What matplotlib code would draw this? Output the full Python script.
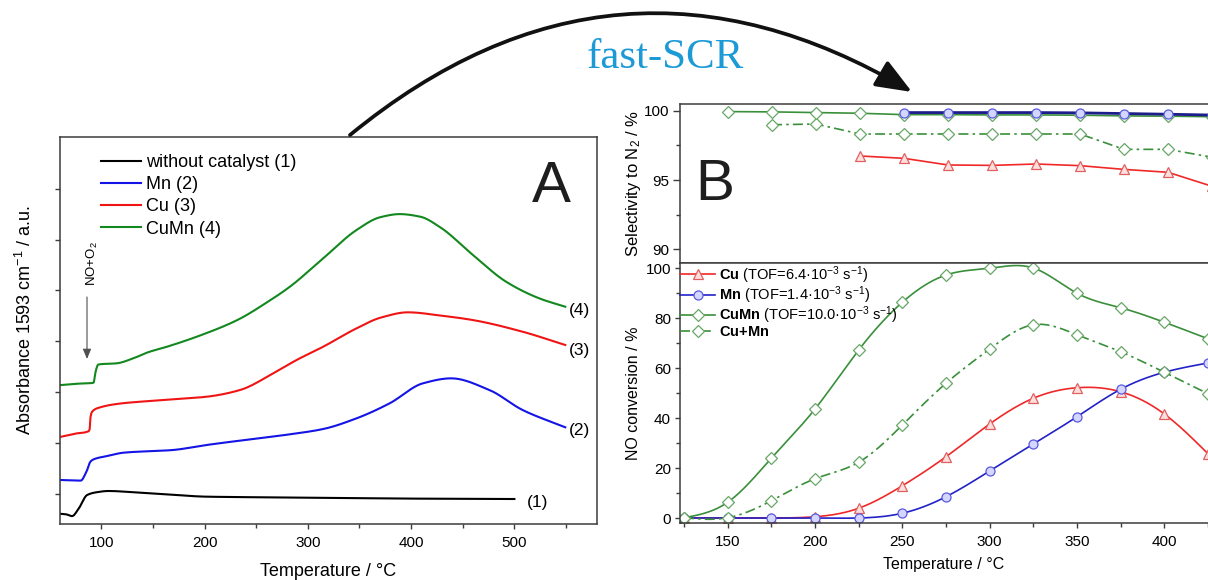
import numpy as np
import matplotlib.pyplot as plt
from matplotlib.patches import FancyArrowPatch
from matplotlib.lines import Line2D

plt.rcParams['font.family'] = ['Liberation Sans', 'DejaVu Sans']
plt.rcParams['mathtext.fontset'] = 'custom'
plt.rcParams['mathtext.rm'] = 'Liberation Sans'
plt.rcParams['mathtext.it'] = 'Liberation Sans:italic'
plt.rcParams['mathtext.bf'] = 'Liberation Sans:bold'

# ---- panel A: absorbance at 1593 cm-1 vs temperature ----
t_none = [61, 66, 71.7, 78, 86.2, 95, 107, 128, 160, 202, 298.7, 400, 500]
a_none = [-0.2, -0.205, -0.222, -0.15, -0.015, 0.012, 0.025, 0.015, -0.005, -0.031, -0.04, -0.05, -0.054]

t_mn = [61, 80, 85.6, 89.4, 92.6, 106, 121.5, 168.8, 202, 239, 282.6, 314.8, 347.1,
        379.2, 411.4, 438.8, 475.8, 508, 549.3]
a_mn = [0.133, 0.127, 0.215, 0.313, 0.337, 0.37, 0.402, 0.428, 0.478, 0.527, 0.583, 0.635, 0.74,
        0.888, 1.085, 1.134, 1.019, 0.822, 0.652]

t_cu = [61, 75, 88.5, 89.5, 91, 99, 120, 137.7, 168.8, 202, 234.3, 266.5, 289, 314.8,
        347.1, 370, 396.9, 430, 459.7, 508, 549.3]
a_cu = [0.559, 0.59, 0.618, 0.75, 0.805, 0.849, 0.888, 0.904, 0.927, 0.953, 1.019, 1.183, 1.314, 1.445,
        1.626, 1.73, 1.784, 1.75, 1.708, 1.593, 1.462]

t_cumn = [61, 75, 92.5, 94.5, 97, 115, 131, 145, 163.5, 192.5, 231.7, 261.3, 282.6, 314.8,
          347.1, 370, 388.9, 409, 427.5, 459.7, 492, 524.2, 549.3]
a_cumn = [1.068, 1.08, 1.09, 1.2, 1.27, 1.282, 1.331, 1.39, 1.445, 1.544, 1.708, 1.888, 2.036, 2.315,
          2.594, 2.72, 2.751, 2.725, 2.626, 2.35, 2.085, 1.921, 1.839]

# ---- panel B top: selectivity to N2 ----
ts_cumn = [150, 175, 200, 225, 250, 275, 300, 325, 350, 375, 400, 425]
sel_cumn = [99.95, 99.93, 99.88, 99.83, 99.73, 99.73, 99.71, 99.71, 99.69, 99.64, 99.62, 99.58]
ts_mn = [250, 275, 300, 325, 350, 375, 400, 425]
sel_mn = [99.88, 99.88, 99.88, 99.88, 99.86, 99.81, 99.76, 99.70]
ts_mix = [175, 200, 225, 250, 275, 300, 325, 350, 375, 400, 425]
sel_mix = [99.0, 99.05, 98.33, 98.33, 98.33, 98.33, 98.33, 98.33, 97.22, 97.22, 96.65]
ts_cu = [225, 250, 275, 300, 325, 350, 375, 400, 425]
sel_cu = [96.74, 96.57, 96.09, 96.06, 96.16, 96.04, 95.77, 95.56, 94.55]

# ---- panel B bottom: NO conversion ----
tc = [125, 150, 175, 200, 225, 250, 275, 300, 325, 350, 375, 400, 425]
conv_cumn = [0.1, 6.3, 23.9, 43.6, 67.2, 86.3, 97.2, 99.9, 100, 89.9, 84.1, 78.3, 71.7]
conv_mix = [0.1, 0.1, 6.9, 15.7, 22.3, 37.2, 53.9, 67.6, 77.3, 73.3, 66.5, 58.3, 49.7]
conv_cu = [0, 0, 0, 0.5, 3.9, 12.9, 24.5, 37.6, 47.9, 52.1, 50.5, 41.6, 25.7]
conv_mn = [0, 0, 0, 0, 0, 1.9, 8.5, 18.8, 29.6, 40.5, 51.5, 58.3, 62]


def pchip(x, y, n=600):
    # monotone cubic through the read points (keeps the steps clean)
    x = np.asarray(x, float); y = np.asarray(y, float)
    h = np.diff(x); d = np.diff(y) / h
    m = np.zeros_like(y)
    for k in range(1, len(x) - 1):
        if d[k-1] * d[k] > 0:
            w1 = 2*h[k] + h[k-1]; w2 = h[k] + 2*h[k-1]
            m[k] = (w1 + w2) / (w1/d[k-1] + w2/d[k])
    m[0], m[-1] = d[0], d[-1]
    xs = np.linspace(x[0], x[-1], n)
    i = np.clip(np.searchsorted(x, xs) - 1, 0, len(h) - 1)
    t = (xs - x[i]) / h[i]
    ys = ((2*t**3 - 3*t**2 + 1)*y[i] + (t**3 - 2*t**2 + t)*h[i]*m[i]
          + (-2*t**3 + 3*t**2)*y[i+1] + (t**3 - t**2)*h[i]*m[i+1])
    return xs, ys


def spline(x, y, n=600):
    # natural cubic spline, like the origin "spline" connection
    x = np.asarray(x, float); y = np.asarray(y, float)
    N = len(x); h = np.diff(x)
    A = np.zeros((N, N)); r = np.zeros(N)
    A[0, 0] = A[-1, -1] = 1
    for k in range(1, N - 1):
        A[k, k-1] = h[k-1]; A[k, k] = 2*(h[k-1] + h[k]); A[k, k+1] = h[k]
        r[k] = 3*((y[k+1] - y[k])/h[k] - (y[k] - y[k-1])/h[k-1])
    c = np.linalg.solve(A, r)
    b = (y[1:] - y[:-1])/h - h*(2*c[:-1] + c[1:])/3
    dd = (c[1:] - c[:-1])/(3*h)
    xs = np.linspace(x[0], x[-1], n)
    i = np.clip(np.searchsorted(x, xs) - 1, 0, N - 2)
    t = xs - x[i]
    return xs, y[i] + b[i]*t + c[i]*t**2 + dd[i]*t**3


W, H = 1208, 580
def fx(px): return px / W
def fy(py): return 1 - py / H

SP = '#3c3c3c'
def style(ax):
    for s in ax.spines.values():
        s.set_color(SP); s.set_linewidth(1.1)
    ax.tick_params(which='both', direction='out', color=SP, width=1.0)
    ax.tick_params(which='major', length=3.5)
    ax.tick_params(which='minor', length=3.0)

fig = plt.figure(figsize=(W/100, H/100), dpi=100)

# ================= panel A =================
axA = fig.add_axes([fx(60), fy(524), 537/W, 387/H])
style(axA)
for t, a, c in [(t_none, a_none, 'black'), (t_mn, a_mn, '#1414e6'),
                (t_cu, a_cu, '#f01414'), (t_cumn, a_cumn, '#13881f')]:
    xs, ys = pchip(t, a)
    axA.plot(xs, ys, color=c, lw=1.5)
axA.set_xlim(60, 580)
axA.set_ylim(-0.3, 3.51)
axA.set_xticks([100, 200, 300, 400, 500])
axA.set_xticks([150, 250, 350, 450, 550], minor=True)
axA.set_yticks([0, 0.5, 1, 1.5, 2, 2.5, 3])
axA.tick_params(axis='y', labelleft=False)
axA.tick_params(axis='x', labelsize=11, pad=5)
axA.set_xlabel('Temperature / °C', fontsize=13)
axA.xaxis.set_label_coords(0.5, -0.1)
axA.set_ylabel('Absorbance 1593 cm$^{-1}$ / a.u.', fontsize=13)
axA.yaxis.set_label_coords(-0.047, 0.527)

axA.legend(handles=[Line2D([], [], color='black', lw=1.5),
                    Line2D([], [], color='#1414e6', lw=1.5),
                    Line2D([], [], color='#f01414', lw=1.5),
                    Line2D([], [], color='#13881f', lw=1.5)],
           labels=['without catalyst (1)', 'Mn (2)', 'Cu (3)', 'CuMn (4)'],
           loc='upper left', bbox_to_anchor=(fx(101), fy(154)), bbox_transform=fig.transFigure,
           frameon=False, fontsize=13, handlelength=2.2, handletextpad=0.3,
           labelspacing=0.29, borderpad=0, borderaxespad=0)

fig.text(fx(551), fy(202), 'A', fontsize=42, ha='center', va='baseline', color='#1e1e1e')
for lbl, x, y in [('(4)', 580, 311), ('(3)', 580, 351), ('(2)', 580, 431), ('(1)', 538, 502)]:
    fig.text(fx(x), fy(y), lbl, fontsize=12.5, ha='center', va='center')

fig.text(fx(92), fy(264), 'NO+O$_2$', fontsize=9.5, rotation=90, ha='center', va='center')
fig.patches.append(FancyArrowPatch((fx(87), fy(297)), (fx(87), fy(359)), transform=fig.transFigure,
                                   arrowstyle='-|>,head_length=0.6,head_width=0.25', mutation_scale=10,
                                   color='#505050', lw=0.8, shrinkA=0, shrinkB=0))

# ================= panel B =================
RED, BLUE, GREEN = '#f02828', '#2222c8', '#3a8f3a'
mk_cu = dict(marker='^', ms=7, mfc='#ffdede', mec='#e06060', mew=0.9)
mk_mn = dict(marker='o', ms=6.5, mfc='#d4d6ff', mec='#5a5ae0', mew=0.9)
mk_d = dict(marker='D', ms=6, mfc='white', mec='#66a866', mew=0.9)
DASH = (0, (6, 2.5, 1.5, 2.5))

axT = fig.add_axes([fx(680), fy(263), 528/W, 159/H])
axB = fig.add_axes([fx(680), fy(523), 528/W, 260/H])
for ax in (axT, axB):
    style(ax)
    ax.spines['right'].set_visible(False)
    ax.set_xlim(122.7, 422.7)

axT.plot(ts_cu, sel_cu, color=RED, lw=1.2, **mk_cu)
axT.plot(ts_mix, sel_mix, color=GREEN, lw=1.2, ls=DASH, **mk_d)
axT.plot(ts_cumn, sel_cumn, color=GREEN, lw=1.2, **mk_d)
axT.plot(ts_mn, sel_mn, color='#1c1c8a', lw=2.0, **mk_mn)
axT.set_ylim(89, 100.5)
axT.set_yticks([90, 95, 100])
axT.set_yticks([92.5, 97.5], minor=True)
axT.tick_params(axis='x', which='both', bottom=False, labelbottom=False)
axT.tick_params(axis='y', labelsize=11, pad=3)
axT.tick_params(axis='y', which='major', length=5)
axT.set_ylabel('Selectivity to N$_2$ / %', fontsize=12)
axT.yaxis.set_label_coords(-0.07, 0.5)
fig.text(fx(715), fy(200), 'B', fontsize=42, ha='center', va='baseline', color='#1e1e1e')

for vals, col, mk, ls in [(conv_cu, RED, mk_cu, '-'), (conv_mn, BLUE, mk_mn, '-'),
                          (conv_mix, GREEN, mk_d, DASH), (conv_cumn, GREEN, mk_d, '-')]:
    xs, ys = spline(tc, vals)
    axB.plot(xs, ys, color=col, lw=1.2, ls=ls)
    axB.plot(tc, vals, ls='none', **mk)
axB.set_ylim(-2, 102)
axB.set_yticks([0, 20, 40, 60, 80, 100])
axB.set_yticks([10, 30, 50, 70, 90], minor=True)
axB.set_xticks([150, 200, 250, 300, 350, 400])
axB.set_xticks([125, 175, 225, 275, 325, 375, 425], minor=True)
axB.tick_params(labelsize=11)
axB.tick_params(axis='x', pad=5)
axB.tick_params(axis='y', pad=3)
axB.set_xlabel('Temperature / °C', fontsize=11.5)
axB.xaxis.set_label_coords(0.5, -0.132)
axB.set_ylabel('NO conversion / %', fontsize=11.5)
axB.yaxis.set_label_coords(-0.074, 0.5)

hB = [Line2D([], [], color=RED, lw=1.2, **mk_cu),
      Line2D([], [], color=BLUE, lw=1.2, **mk_mn),
      Line2D([], [], color=GREEN, lw=1.2, **mk_d),
      Line2D([], [], color=GREEN, lw=1.2, ls=DASH, **mk_d)]
lB = [r'$\mathbf{Cu}$ (TOF=6.4·10$^{-3}$ s$^{-1}$)',
      r'$\mathbf{Mn}$ (TOF=1.4·10$^{-3}$ s$^{-1}$)',
      r'$\mathbf{CuMn}$ (TOF=10.0·10$^{-3}$ s$^{-1}$)',
      r'$\mathbf{Cu{+}Mn}$']
axB.legend(hB, lB, loc='upper left', bbox_to_anchor=(fx(680), fy(264)), bbox_transform=fig.transFigure,
           frameon=False, fontsize=10.5, handlelength=2.4, handletextpad=0.3,
           labelspacing=-0.08, borderpad=0, borderaxespad=0)

# ---- curved arrow + caption ----
fig.patches.append(FancyArrowPatch((fx(350), fy(135)), (fx(912), fy(92)), transform=fig.transFigure,
                                   connectionstyle='arc3,rad=-0.35',
                                   arrowstyle='-|>,head_length=1.0,head_width=0.4', mutation_scale=22,
                                   color='#111111', lw=2.7, shrinkA=0, shrinkB=0))
fig.text(fx(665), fy(68), 'fast-SCR', fontsize=31, ha='center', va='baseline',
         color='#1b9ad6', family=['Liberation Serif', 'DejaVu Serif'])

fig.savefig('out.png', dpi=100)
